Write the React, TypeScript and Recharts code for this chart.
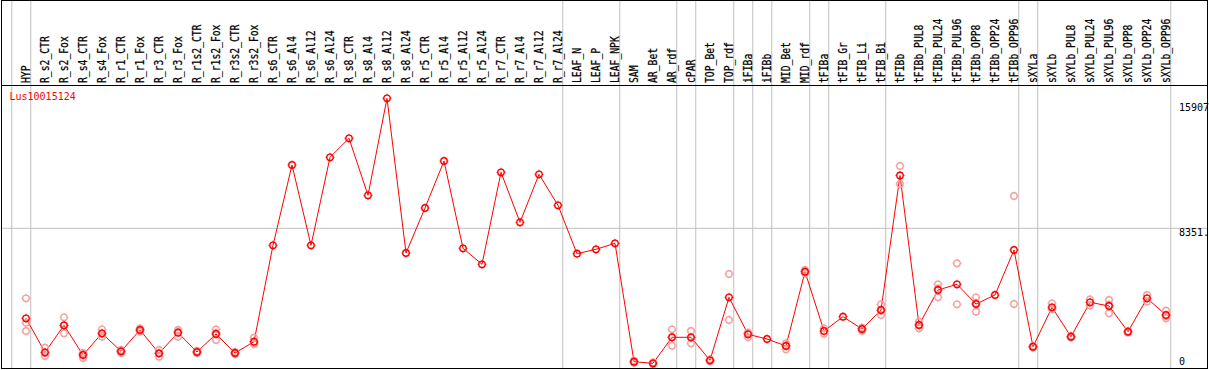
import React from 'react';
import { ComposedChart, Line, XAxis, YAxis, ReferenceLine } from 'recharts';

const categories = [
  'HYP', 'R_s2_CTR', 'R_s2_Fox', 'R_s4_CTR', 'R_s4_Fox', 'R_r1_CTR', 'R_r1_Fox', 'R_r3_CTR', 'R_r3_Fox',
  'R_r1s2_CTR', 'R_r1s2_Fox', 'R_r3s2_CTR', 'R_r3s2_Fox', 'R_s6_CTR', 'R_s6_Al4', 'R_s6_Al12', 'R_s6_Al24',
  'R_s8_CTR', 'R_s8_Al4', 'R_s8_Al12', 'R_s8_Al24', 'R_r5_CTR', 'R_r5_Al4', 'R_r5_Al12', 'R_r5_Al24',
  'R_r7_CTR', 'R_r7_Al4', 'R_r7_Al12', 'R_r7_Al24', 'LEAF_N', 'LEAF_P', 'LEAF_NPK', 'SAM', 'AR_Bet', 'AR_rdf',
  'cPAR', 'TOP_Bet', 'TOP_rdf', 'iFIBa', 'iFIBb', 'MID_Bet', 'MID_rdf', 'tFIBa', 'tFIB_Gr', 'tFIB_Li', 'tFIB_Bi',
  'tFIBb', 'tFIBb_PUL8', 'tFIBb_PUL24', 'tFIBb_PUL96', 'tFIBb_OPP8', 'tFIBb_OPP24', 'tFIBb_OPP96', 'sXYLa',
  'sXYLb', 'sXYLb_PUL8', 'sXYLb_PUL24', 'sXYLb_PUL96', 'sXYLb_OPP8', 'sXYLb_OPP24', 'sXYLb_OPP96',
];

const meanValues = [
  2932, 885, 2511, 723, 2029, 945, 2228, 825, 2065, 903, 1987, 843, 1523, 7328, 12162, 7328, 12626, 13770,
  10338, 16178, 6864, 9573, 12403, 7147, 6184, 11723, 8712, 11602, 9736, 6822, 7087, 7448, 319, 223, 1788,
  1788, 403, 4197, 1969, 1686, 1264, 5738, 2168, 3029, 2288, 3432, 11530, 2529, 4636, 4979, 3793, 4335, 7045,
  1222, 3595, 1824, 3896, 3673, 2125, 4136, 3131,
];

const rep1 = [
  4136, 1162, 2992, 843, 2270, 1024, 2330, 1024, 2228, 963, 2270, 903, 1764, null, null, null, null, null,
  null, null, null, null, null, null, null, null, null, null, null, null, null, null, 260, 180, 2270,
  2168, 340, 5600, 2065, null, 1427, 5840, 2330, null, 2366, 3775, 12102, 2727, 4979, 6244, 4197, null, 10296,
  1180, 3835, 1870, 4076, 4034, 2170, 4335, 3390,
];

const rep2 = [
  2667, 662, 2029, 542, 1824, 843, 2125, 620, 1824, 843, 1626, 783, 1427, null, null, null, null, null,
  null, null, null, null, null, null, null, null, null, null, null, null, null, null, 380, 270, 1282,
  1427, 460, 2830, 1788, null, 1066, 5640, 2000, null, 2186, 3131, 11018, 2330, 4197, 3775, 3330, null, 3793,
  1260, 3480, 1780, 3716, 3233, 2080, 3940, 2932,
];

const rep3 = [
  2168, 840, 2500, 780, 2000, 960, 2230, 830, 2140, 900, 2060, 843, 1380, null, null, null, null, null,
  null, null, null, null, null, null, null, null, null, null, null, null, null, null, null, null, 1810,
  1770, null, null, 2050, null, 1300, null, null, null, 2310, 3390, null, 2530, 4730, null, 3850, null, null,
  null, null, null, null, 3750, null, null, 3070,
];

const yTickValues = [0, 8351, 15907];
const yTickLabels = ['0', '8351.', '15907'];
const gridValue = 8351;
const groupBoundaries = [-1, 0, 28, 31, 34, 35, 37, 38, 39, 41, 42, 45, 52, 53, 60];
const geneLabel = 'Lus10015124';

const data = categories.map((name, i) => ({
  idx: i,
  name,
  mean: meanValues[i],
  r1: rep1[i],
  r2: rep2[i],
  r3: rep3[i],
}));

const MONO = '"DejaVu Sans Mono", "Liberation Mono", monospace';
const RED = '#ff0000';
const PALE = '#f2a0a0';

const makeDot = (color: string, prefix: string) => (props: any) => {
  const { cx, cy, index, value } = props;
  if (value == null || cy == null || cx == null || Number.isNaN(cy)) return <g key={`${prefix}${index}`} />;
  const r = 3.2;
  const t = 1.3;
  return (
    <g key={`${prefix}${index}`}>
      <circle cx={cx} cy={cy} r={r} fill="none" stroke={color} strokeWidth={1.4} />
      <path
        d={`M${cx},${cy - r - t}v${t}M${cx},${cy + r}v${t}M${cx - r - t},${cy}h${t}M${cx + r},${cy}h${t}`}
        stroke={color}
        strokeWidth={1}
      />
    </g>
  );
};

const mainDot = makeDot(RED, 'm');
const paleDot1 = makeDot(PALE, 'a');
const paleDot2 = makeDot(PALE, 'b');
const paleDot3 = makeDot(PALE, 'c');

const CatTick = (props: any) => {
  const { x, payload } = props;
  const label = categories[payload.value];
  if (label == null) return null;
  return (
    <text
      transform={`translate(${x + 4},83) rotate(-90) scale(0.81,1)`}
      fontFamily={MONO}
      fontSize={12}
      fill="#000"
      stroke="#000"
      strokeWidth={0.25}
      textAnchor="start"
    >
      {label}
    </text>
  );
};

const makeValLabel = (text: string) => (p: any) => {
  const vb = p.viewBox || {};
  const y = typeof vb.y === 'number' ? vb.y : 0;
  return (
    <text x={1179} y={Math.min(y + 7.8, 365.3)} fontFamily={MONO} fontSize={10} fill="#000" textAnchor="start">
      {text}
    </text>
  );
};

export default function App() {
  return (
    <div style={{ position: 'relative', width: 1209, height: 370, background: '#fff' }}>
      <style>{`body{margin:0;}`}</style>
      <ComposedChart
        width={1209}
        height={370}
        data={data}
        margin={{ top: 0, right: 2, bottom: 2, left: 1 }}
      >
        <XAxis
          type="number"
          dataKey="idx"
          orientation="top"
          height={85}
          domain={[-1.3158, 62.1579]}
          allowDataOverflow
          ticks={categories.map((_, i) => i)}
          interval={0}
          axisLine={false}
          tickLine={false}
          tick={<CatTick />}
        />
        <YAxis type="number" hide domain={[-60, 16979]} allowDataOverflow />
        {groupBoundaries.map((k) => (
          <ReferenceLine
            key={`g${k}`}
            x={k + 0.25}
            stroke="#c0c0c0"
            strokeWidth={1}
            shape={(p: any) => (
              <line x1={p.x1} y1={0} x2={p.x2} y2={p.y2} stroke="#c0c0c0" strokeWidth={1} />
            )}
          />
        ))}
        {yTickValues.map((v, i) => (
          <ReferenceLine
            key={`y${v}`}
            y={v}
            stroke={v === gridValue ? '#c0c0c0' : 'none'}
            strokeWidth={1}
            label={makeValLabel(yTickLabels[i])}
          />
        ))}
        <Line dataKey="r1" stroke="none" dot={paleDot1} activeDot={false} isAnimationActive={false} legendType="none" />
        <Line dataKey="r2" stroke="none" dot={paleDot2} activeDot={false} isAnimationActive={false} legendType="none" />
        <Line dataKey="r3" stroke="none" dot={paleDot3} activeDot={false} isAnimationActive={false} legendType="none" />
        <Line
          dataKey="mean"
          stroke={RED}
          strokeWidth={1}
          dot={mainDot}
          activeDot={false}
          isAnimationActive={false}
        />
      </ComposedChart>
      <svg
        width={1209}
        height={370}
        style={{ position: 'absolute', left: 0, top: 0, pointerEvents: 'none' }}
      >
        <rect x={1.5} y={0.5} width={1206} height={368} fill="none" stroke="#000" strokeWidth={1} />
        <line x1={1} y1={85.5} x2={1208} y2={85.5} stroke="#000" strokeWidth={1} />
        <text x={9.5} y={100} fontFamily={MONO} fontSize={10} fill={RED}>
          {geneLabel}
        </text>
      </svg>
    </div>
  );
}
